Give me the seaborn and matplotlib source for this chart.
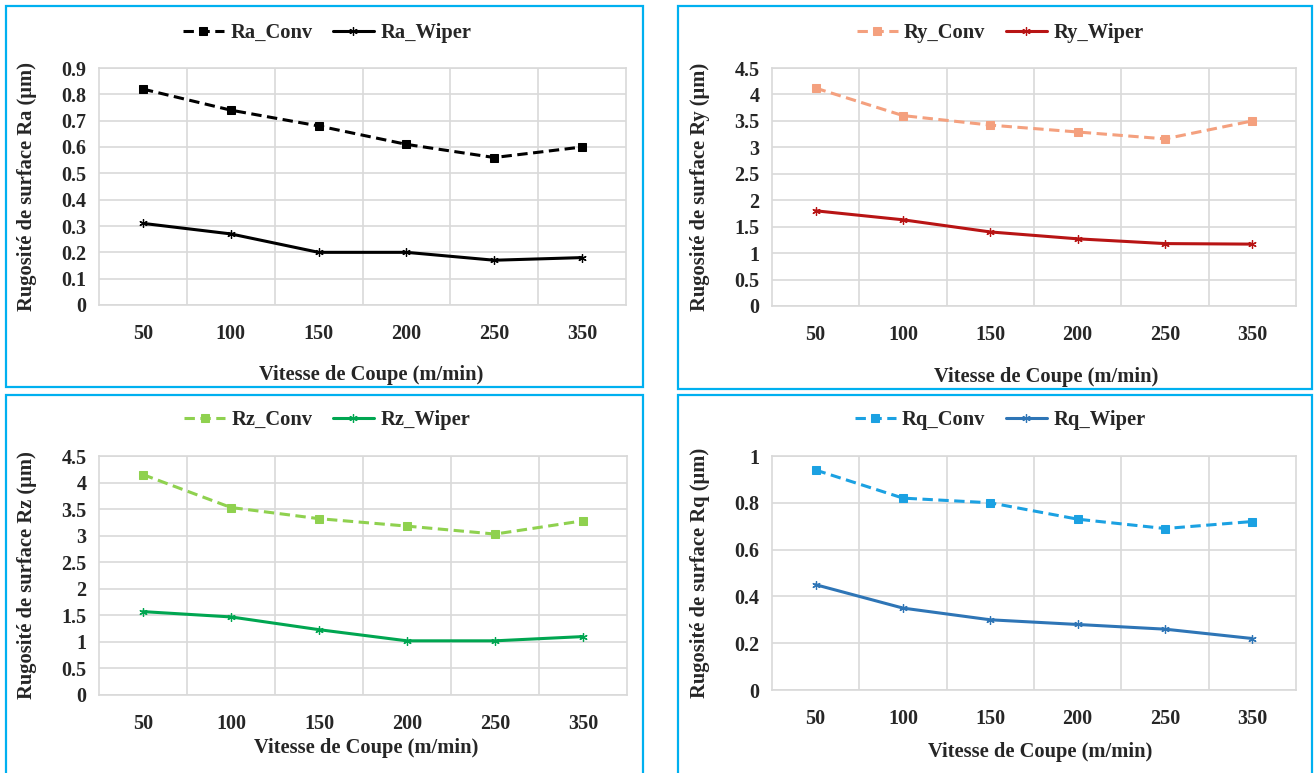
import numpy as np
import pandas as pd
import matplotlib
matplotlib.use("Agg")
import matplotlib.pyplot as plt
from matplotlib.patches import Rectangle
from matplotlib.ticker import FixedLocator
import seaborn as sns

# ---------------- data ----------------
vitesse = ["50", "100", "150", "200", "250", "350"]

ra_conv = [0.82, 0.74, 0.68, 0.61, 0.56, 0.60]
ra_wiper = [0.31, 0.27, 0.20, 0.20, 0.17, 0.18]
ry_conv = [4.12, 3.60, 3.42, 3.29, 3.16, 3.50]
ry_wiper = [1.80, 1.63, 1.40, 1.27, 1.18, 1.17]
rz_conv = [4.15, 3.53, 3.32, 3.18, 3.03, 3.28]
rz_wiper = [1.57, 1.47, 1.23, 1.02, 1.02, 1.10]
rq_conv = [0.94, 0.82, 0.80, 0.73, 0.69, 0.72]
rq_wiper = [0.45, 0.35, 0.30, 0.28, 0.26, 0.22]

ra_ticks = [0, 0.1, 0.2, 0.3, 0.4, 0.5, 0.6, 0.7, 0.8, 0.9]
ry_ticks = [0, 0.5, 1, 1.5, 2, 2.5, 3, 3.5, 4, 4.5]
rz_ticks = [0, 0.5, 1, 1.5, 2, 2.5, 3, 3.5, 4, 4.5]
rq_ticks = [0, 0.2, 0.4, 0.6, 0.8, 1]

xlabel = "Vitesse de Coupe (m/min)"

# ---------------- style ----------------
sns.set_theme(style="white")
plt.rcParams["font.family"] = ["Liberation Serif", "DejaVu Serif"]
plt.rcParams["font.weight"] = "bold"
plt.rcParams["axes.labelweight"] = "bold"

W, H = 1314, 773
fig = plt.figure(figsize=(W / 100, H / 100), dpi=100)
fig.patch.set_facecolor("white")

FS = 14.8
TFS = 14.5
GRID = "#D9D9D9"
BORDER = "#00B0F0"


def fig_box(l, t, r, b):
    return [l / W, 1 - b / H, (r - l) / W, (b - t) / H]


panels = [
    dict(prefix="Ra", conv=ra_conv, wiper=ra_wiper, ticks=ra_ticks,
         c_conv="#000000", c_wiper="#000000",
         ax=(99, 68, 626, 305), border=(6, 6, 643, 387),
         leg=(327, 33), xl_off=70, xl_dx=9),
    dict(prefix="Ry", conv=ry_conv, wiper=ry_wiper, ticks=ry_ticks,
         c_conv="#F4A07E", c_wiper="#B81414",
         ax=(772, 68, 1296, 306), border=(678, 6, 1312, 389),
         leg=(1000, 33), xl_off=71, xl_dx=12),
    dict(prefix="Rz", conv=rz_conv, wiper=rz_wiper, ticks=rz_ticks,
         c_conv="#8FD14F", c_wiper="#00A651",
         ax=(99, 456, 627, 695), border=(6, 395, 643, 790),
         leg=(327, 420), xl_off=53, xl_dx=3),
    dict(prefix="Rq", conv=rq_conv, wiper=rq_wiper, ticks=rq_ticks,
         c_conv="#1BA1E2", c_wiper="#2E75B6",
         ax=(772, 456, 1296, 690), border=(678, 395, 1312, 790),
         leg=(1000, 420), xl_off=62, xl_dx=6),
]

for p in panels:
    # panel frame
    l, t, r, b = p["border"]
    fig.add_artist(Rectangle((l / W, 1 - b / H), (r - l) / W, (b - t) / H,
                             transform=fig.transFigure, fill=False,
                             edgecolor=BORDER, linewidth=1.6, zorder=0))

    ax = fig.add_axes(fig_box(*p["ax"]))
    pre = p["prefix"]
    df = pd.DataFrame({
        "x": vitesse * 2,
        "y": p["conv"] + p["wiper"],
        "serie": [f"{pre}_Conv"] * len(vitesse) + [f"{pre}_Wiper"] * len(vitesse),
    })
    d_conv = df[df["serie"] == f"{pre}_Conv"]
    d_wip = df[df["serie"] == f"{pre}_Wiper"]

    sns.lineplot(data=d_conv, x="x", y="y", ax=ax, sort=False,
                 color=p["c_conv"], linewidth=2.2, marker="s", markersize=5.5,
                 markeredgecolor=p["c_conv"], label=f"{pre}_Conv",
                 dashes=False, legend=False, zorder=4)
    ax.lines[-1].set_dashes([3.4, 1.8])
    sns.lineplot(data=d_wip, x="x", y="y", ax=ax, sort=False,
                 color=p["c_wiper"], linewidth=2.2, marker=(6, 2, 0),
                 markersize=6, markeredgewidth=0.9,
                 markeredgecolor=p["c_wiper"], label=f"{pre}_Wiper",
                 legend=False, zorder=4)

    ticks = p["ticks"]
    ax.set_ylim(ticks[0], ticks[-1])
    ax.set_yticks(ticks)
    ax.set_yticklabels([f"{v:g}" for v in ticks])
    ax.set_xlim(-0.5, len(vitesse) - 0.5)
    ax.set_xticks(range(len(vitesse)))
    ax.set_xticklabels(vitesse)
    ax.xaxis.set_minor_locator(FixedLocator(np.arange(0.5, len(vitesse) - 0.5, 1)))

    ax.grid(True, axis="y", which="major", color=GRID, linewidth=1.2, zorder=0)
    ax.grid(True, axis="x", which="minor", color=GRID, linewidth=1.2, zorder=0)
    ax.grid(False, axis="x", which="major")
    ax.set_axisbelow(True)
    for s in ax.spines.values():
        s.set_visible(True)
        s.set_color(GRID)
        s.set_linewidth(1.2)

    ax.tick_params(axis="x", which="both", length=0, pad=14, labelsize=TFS)
    ax.tick_params(axis="y", which="both", length=0, pad=9, labelsize=TFS)
    for lab in ax.get_xticklabels() + ax.get_yticklabels():
        lab.set_fontweight("bold")

    axh = p["ax"][3] - p["ax"][1]
    axw = p["ax"][2] - p["ax"][0]
    ax.set_xlabel(xlabel, fontsize=FS, fontweight="bold")
    ax.xaxis.label.set_va("center")
    ax.xaxis.set_label_coords(0.5 + p["xl_dx"] / axw, -p["xl_off"] / axh)
    ax.set_ylabel(f"Rugosité de surface {pre} (µm)", fontsize=FS, fontweight="bold")
    ax.yaxis.label.set_va("center")
    ax.yaxis.set_label_coords(-72 / axw, 0.5)

    handles, labels = ax.get_legend_handles_labels()
    lx, ly = p["leg"]
    fig.legend(handles, labels, loc="center", bbox_to_anchor=(lx / W, 1 - ly / H),
               ncol=2, frameon=False, handlelength=2.0,
               handletextpad=0.3, columnspacing=1.0, prop={"weight": "bold", "size": FS})

fig.savefig("out.png", dpi=100, facecolor="white")
